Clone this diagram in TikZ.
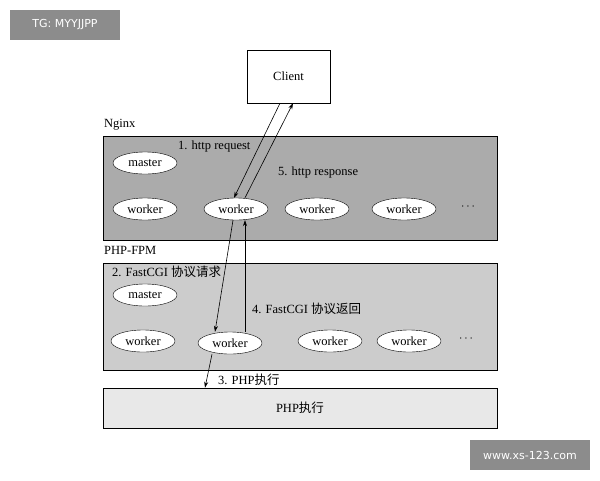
\documentclass[tikz,border=0pt]{standalone}
\usepackage{fontspec}
\setmainfont{Liberation Serif}
\newfontfamily\cjk{Noto Sans CJK SC}
\newfontfamily\wm{DejaVu Sans}
\usetikzlibrary{arrows.meta,shapes.geometric}
\begin{document}
\begin{tikzpicture}[x=1pt,y=-1pt,font=\fontsize{12.5}{14}\selectfont,
 el/.style={draw,ellipse,fill=white,minimum width=64pt,minimum height=22pt,inner sep=0pt},
 box/.style={draw,line width=0.6pt},
 ar/.style={-{Stealth[length=6pt,width=4pt]},line width=0.6pt},
 lab/.style={anchor=west,inner sep=0pt},
 wmk/.style={fill=black!45,text=white,font=\wm\fontsize{11}{13}\selectfont,inner sep=0pt}]
\useasboundingbox (0,0) rectangle (600,480);
\fill[white] (0,0) rectangle (600,480);
\node[wmk,minimum width=110pt,minimum height=30pt] (tg) at (65,25) {TG: MYYJJPP};
\node[draw,fill=white,minimum width=83pt,minimum height=53pt] (client) at (288.5,76.5) {Client};
\node[lab] (nl) at (104,125) {Nginx};
\node[box,fill=black!33,minimum width=394pt,minimum height=104pt] (ng) at (300,188) {};
\node[el] (m1) at (145,163) {master};
\node[el] (w1) at (145,209) {worker};
\node[el] (w2) at (236,209) {worker};
\node[el] (w3) at (317,209) {worker};
\node[el] (w4) at (404,209) {worker};
\node (d1) at (468,207) {$\cdots$};
\node[lab] (l1) at (178,146) {1. http request};
\node[lab] (l5) at (278,172) {5. http response};
\node[lab] (fl) at (104,250) {PHP-FPM};
\node[box,fill=black!20,minimum width=394pt,minimum height=107pt] (fpm) at (300,316.5) {};
\node[lab] (l2) at (112,272) {2. FastCGI {\cjk 协议请求}};
\node[el] (m2) at (145,295) {master};
\node[lab] (l4) at (252,309) {4. FastCGI {\cjk 协议返回}};
\node[el] (f1) at (143,341) {worker};
\node[el] (f2) at (230,343) {worker};
\node[el] (f3) at (330,341) {worker};
\node[el] (f4) at (409,341) {worker};
\node (d2) at (466,339) {$\cdots$};
\node[lab] (l3) at (218,380) {3. PHP{\cjk 执行}};
\node[box,fill=black!9,minimum width=394pt,minimum height=40pt] (php) at (300,408) {PHP{\cjk 执行}};
\node[wmk,minimum width=120pt,minimum height=30pt] (xs) at (530,455) {www.xs-123.com};
\draw[ar] (client.south-|280,0) -- (w2.north-|234,0);
\draw[ar] (w2.north-|245,0) -- (client.south-|293,0);
\draw[ar] (w2.south-|233,0) -- (f2.north-|215,0);
\draw[ar] (f2.north-|245,0) -- (w2.south-|245,0);
\draw[ar] (f2.south-|212,0) -- (php.north-|205,0);
\end{tikzpicture}
\end{document}
